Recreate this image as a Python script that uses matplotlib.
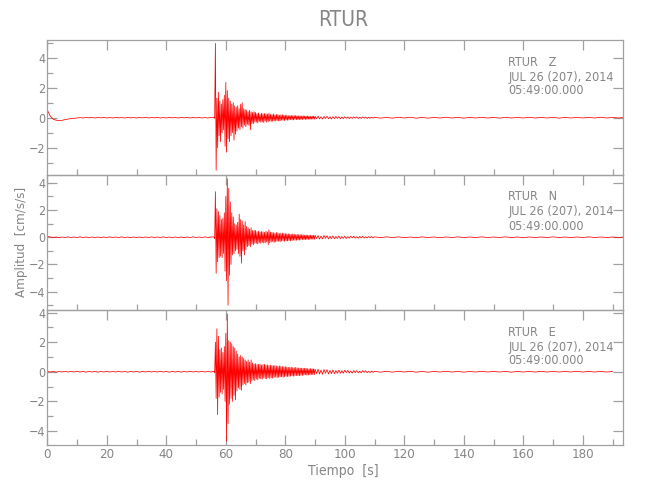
import numpy as np
import matplotlib
matplotlib.use("Agg")
import matplotlib.pyplot as plt
from matplotlib.ticker import MultipleLocator, FuncFormatter

plt.rcParams['font.family'] = ['DejaVu Sans']
plt.rcParams['font.stretch'] = 'condensed'

# ---------------- data (accelerations, cm/s/s) ----------------
station = "RTUR"
components = ["Z", "N", "E"]
date_line = "JUL 26 (207), 2014"
time_line = "05:49:00.000"

# segment start times [s] and sample spacing [s]
seg_starts = [0.0, 56.0, 70.0, 90.0, 110.0]
seg_dts = [1.0, 0.25, 0.25, 0.5, 2.0]

z_pre = [0.52, 0.10, -0.10, -0.17, -0.19, -0.17, -0.13, -0.09, -0.06, -0.04,
         -0.02, 0.01, -0.02, 0.02, -0.01, 0.02, -0.02, 0.01, -0.01, 0.02,
         -0.02, 0.01, -0.02, 0.02, -0.01, 0.01, -0.02, 0.02, -0.01, 0.01,
         -0.02, 0.02, -0.01, 0.02, -0.02, 0.01, -0.01, 0.02, -0.02, 0.01,
         -0.02, 0.02, -0.01, 0.01, -0.02, 0.02, -0.01, 0.02, -0.02, 0.01,
         -0.01, 0.02, -0.02, 0.01, -0.02, 0.02]
z_strong = [0.02, -0.05, 4.95, -3.50, 1.30, -2.00, 1.70, -1.20, 1.10, -1.60,
            0.90, -1.00, 1.20, -0.80, 1.50, -1.90, 2.35, -2.30, 1.80, -1.40,
            1.30, -1.60, 1.10, -1.20, 0.90, -1.00, 1.00, -1.50, 0.80, -1.10,
            0.70, -0.90, 0.80, -0.70, 0.60, -0.80, 0.90, -0.60, 1.00, -0.70,
            0.60, -0.50, 0.55, -0.60, 0.50, -0.45, 0.40, -0.50, 0.50, -0.80,
            0.40, -0.40, 0.35, -0.40, 0.40, -0.30]
z_coda = [0.35, -0.30, 0.28, -0.35, 0.32, -0.25, 0.22, -0.30, 0.30, -0.28,
          0.25, -0.32, 0.28, -0.22, 0.26, -0.30, 0.24, -0.26, 0.30, -0.22,
          0.22, -0.25, 0.20, -0.24, 0.25, -0.20, 0.18, -0.22, 0.22, -0.19,
          0.20, -0.22, 0.17, -0.20, 0.19, -0.17, 0.20, -0.18, 0.16, -0.19,
          0.17, -0.15, 0.16, -0.17, 0.14, -0.16, 0.15, -0.13, 0.16, -0.14,
          0.13, -0.15, 0.14, -0.12, 0.15, -0.13, 0.12, -0.14, 0.13, -0.12,
          0.12, -0.13, 0.11, -0.12, 0.13, -0.10, 0.11, -0.12, 0.10, -0.11,
          0.12, -0.10, 0.10, -0.11, 0.09, -0.10, 0.11, -0.09, 0.10, -0.10]
z_tail = [0.09, -0.07, 0.10, -0.08, 0.06, -0.09, 0.08, -0.05, 0.09, -0.07,
          0.05, -0.08, 0.07, -0.06, 0.08, -0.04, 0.06, -0.07, 0.05, -0.06,
          0.06, -0.04, 0.05, -0.06, 0.04, -0.05, 0.06, -0.03, 0.05, -0.05,
          0.03, -0.04, 0.05, -0.03, 0.04, -0.05, 0.03, -0.04, 0.04, -0.03]
z_post = [0.03, -0.03, 0.02, -0.03, 0.03, -0.02, 0.03, -0.03, 0.02, -0.03,
          0.02, -0.02, 0.03, -0.02, 0.02, -0.03, 0.02, -0.02, 0.03, -0.02,
          0.02, -0.03, 0.02, -0.02, 0.02, -0.02, 0.03, -0.02, 0.02, -0.02,
          0.02, -0.03, 0.02, -0.02, 0.02, -0.02, 0.02, -0.02, 0.03, -0.02,
          0.02, -0.02, 0.02]

n_pre = [0.06, 0.02, -0.02, 0.02, -0.03, 0.02, -0.02, 0.03, -0.02, 0.02,
         -0.02, 0.03, -0.02, 0.02, -0.03, 0.02, -0.02, 0.02, -0.03, 0.02,
         -0.02, 0.03, -0.02, 0.02, -0.02, 0.03, -0.02, 0.02, -0.03, 0.02,
         -0.02, 0.02, -0.03, 0.02, -0.02, 0.03, -0.02, 0.02, -0.02, 0.03,
         -0.02, 0.02, -0.03, 0.02, -0.02, 0.02, -0.03, 0.02, -0.02, 0.03,
         -0.02, 0.02, -0.02, 0.03, -0.02, 0.02]
n_strong = [0.03, -0.10, 3.35, -2.65, 2.10, -1.80, 1.90, -1.50, 1.60, -1.40,
            1.30, -1.50, 1.40, -1.20, 1.80, -2.50, 3.00, -3.20, 4.30, -5.00,
            3.60, -2.80, 2.60, -2.00, 1.80, -1.30, 1.50, -1.20, 1.00, -1.00,
            0.90, -0.90, 1.10, -1.20, 1.70, -1.40, 1.30, -1.90, 1.20, -1.00,
            0.90, -1.30, 1.15, -0.90, 0.80, -0.70, 0.70, -0.60, 0.60, -0.70,
            0.70, -0.50, 0.50, -0.55, 0.50, -0.45]
n_coda = [0.50, -0.45, 0.42, -0.50, 0.45, -0.40, 0.38, -0.45, 0.42, -0.38,
          0.40, -0.42, 0.36, -0.40, 0.45, -0.35, 0.38, -0.55, 0.55, -0.40,
          0.38, -0.35, 0.36, -0.32, 0.34, -0.38, 0.30, -0.34, 0.35, -0.30,
          0.32, -0.30, 0.28, -0.33, 0.30, -0.28, 0.31, -0.27, 0.28, -0.30,
          0.28, -0.26, 0.25, -0.28, 0.26, -0.24, 0.24, -0.26, 0.22, -0.25,
          0.24, -0.21, 0.22, -0.23, 0.20, -0.22, 0.21, -0.19, 0.20, -0.21,
          0.19, -0.18, 0.20, -0.17, 0.18, -0.19, 0.16, -0.18, 0.17, -0.16,
          0.16, -0.17, 0.15, -0.16, 0.16, -0.14, 0.15, -0.15, 0.14, -0.15]
n_tail = [0.14, -0.10, 0.13, -0.14, 0.09, -0.12, 0.13, -0.08, 0.11, -0.12,
          0.07, -0.10, 0.10, -0.11, 0.06, -0.09, 0.09, -0.10, 0.05, -0.08,
          0.08, -0.09, 0.05, -0.07, 0.08, -0.04, 0.07, -0.07, 0.04, -0.07,
          0.06, -0.04, 0.06, -0.05, 0.03, -0.05, 0.05, -0.03, 0.05, -0.04]
n_post = [0.03, -0.03, 0.03, -0.02, 0.03, -0.03, 0.02, -0.03, 0.03, -0.02,
          0.02, -0.03, 0.02, -0.02, 0.03, -0.02, 0.02, -0.02, 0.03, -0.02,
          0.02, -0.02, 0.03, -0.02, 0.02, -0.03, 0.02, -0.02, 0.02, -0.02,
          0.03, -0.02, 0.02, -0.02, 0.02, -0.02, 0.03, -0.02, 0.02, -0.02,
          0.02, -0.02, 0.02]

e_pre = [0.02, -0.02, 0.02, -0.03, 0.02, -0.02, 0.03, -0.02, 0.02, -0.02,
         0.03, -0.02, 0.02, -0.03, 0.02, -0.02, 0.02, -0.03, 0.02, -0.02,
         0.03, -0.02, 0.02, -0.02, 0.03, -0.02, 0.02, -0.03, 0.02, -0.02,
         0.02, -0.03, 0.02, -0.02, 0.03, -0.02, 0.02, -0.02, 0.03, -0.02,
         0.02, -0.03, 0.02, -0.02, 0.02, -0.03, 0.02, -0.02, 0.03, -0.02,
         0.02, -0.02, 0.03, -0.02, 0.02, -0.02]
e_strong = [0.03, -0.08, 2.00, -1.80, 2.90, -2.90, 2.40, -1.70, 1.50, -1.40,
            1.60, -1.50, 1.30, -1.20, 1.70, -2.00, 2.60, -4.70, 3.90, -3.50,
            2.10, -2.20, 2.00, -1.80, 1.90, -2.00, 1.70, -1.60, 1.60, -1.90,
            1.40, -1.30, 1.20, -1.10, 1.00, -1.20, 1.10, -1.25, 1.00, -0.90,
            0.90, -0.80, 0.80, -0.90, 0.70, -0.75, 0.80, -0.70, 0.65, -0.80,
            0.80, -0.60, 0.60, -0.55, 0.50, -0.60]
e_coda = [0.55, -0.50, 0.48, -0.55, 0.50, -0.45, 0.52, -0.48, 0.45, -0.50,
          0.48, -0.42, 0.50, -0.46, 0.44, -0.48, 0.46, -0.40, 0.42, -0.45,
          0.45, -0.40, 0.42, -0.44, 0.40, -0.38, 0.42, -0.36, 0.38, -0.40,
          0.36, -0.38, 0.40, -0.35, 0.36, -0.34, 0.35, -0.38, 0.33, -0.34,
          0.34, -0.30, 0.32, -0.33, 0.30, -0.32, 0.29, -0.30, 0.31, -0.28,
          0.28, -0.30, 0.27, -0.28, 0.29, -0.26, 0.26, -0.27, 0.25, -0.27,
          0.25, -0.24, 0.24, -0.25, 0.23, -0.22, 0.24, -0.21, 0.22, -0.23,
          0.21, -0.22, 0.20, -0.21, 0.21, -0.19, 0.20, -0.20, 0.19, -0.19]
e_tail = [0.18, -0.13, 0.17, -0.16, 0.11, -0.17, 0.15, -0.10, 0.14, -0.15,
          0.09, -0.13, 0.12, -0.13, 0.08, -0.11, 0.11, -0.11, 0.07, -0.10,
          0.10, -0.06, 0.09, -0.09, 0.05, -0.09, 0.08, -0.06, 0.08, -0.07,
          0.04, -0.07, 0.07, -0.04, 0.06, -0.06, 0.03, -0.06, 0.05, -0.04]
e_post = [0.03, -0.03, 0.03, -0.03, 0.03, -0.02, 0.03, -0.03, 0.02, -0.03,
          0.02, -0.02, 0.03, -0.02, 0.02, -0.03, 0.02, -0.02, 0.03, -0.02,
          0.02, -0.02, 0.02, -0.03, 0.02, -0.02, 0.02, -0.02, 0.03, -0.02,
          0.02, -0.02, 0.02, -0.02, 0.03, -0.02, 0.02, -0.02, 0.02, -0.02,
          0.02]

traces = {"Z": (z_pre, z_strong, z_coda, z_tail, z_post),
          "N": (n_pre, n_strong, n_coda, n_tail, n_post),
          "E": (e_pre, e_strong, e_coda, e_tail, e_post)}

y_limits = {"Z": (-3.82, 5.18), "N": (-5.35, 4.58), "E": (-4.95, 4.17)}
x_limit = (0, 193.6)

# ---------------- drawing ----------------
GRAY_TXT = "#858585"
GRAY_AX = "#a0a0a0"

fig = plt.figure(figsize=(6.5, 5), dpi=100)
left, width, height = 47.3 / 650, 576 / 650, 135 / 500
tops_px = [40, 175, 310]


def fmt(val, pos):
    if abs(val) < 1e-9:
        return "0"
    return f"{val:.0f}".replace("-", "\u2212")


for i, comp in enumerate(components):
    bottom = 1 - (tops_px[i] + 135) / 500
    ax = fig.add_axes([left, bottom, width, height])
    segs = traces[comp]
    t = np.concatenate([s + d * np.arange(len(v)) for s, d, v in zip(seg_starts, seg_dts, segs)])
    v = np.concatenate([np.asarray(v, float) for v in segs])
    ax.plot(t, v, color="#ff0000", lw=0.55)
    ax.set_xlim(*x_limit)
    ax.set_ylim(*y_limits[comp])
    ax.xaxis.set_major_locator(MultipleLocator(20))
    ax.xaxis.set_minor_locator(MultipleLocator(10))
    ax.yaxis.set_major_locator(MultipleLocator(2))
    ax.yaxis.set_minor_locator(MultipleLocator(1))
    ax.yaxis.set_major_formatter(FuncFormatter(fmt))
    last = (i == len(components) - 1)
    ax.tick_params(axis="both", which="both", direction="in", colors=GRAY_AX,
                   labelcolor=GRAY_TXT, width=0.9)
    ax.tick_params(axis="both", which="major", length=7.2)
    ax.tick_params(axis="both", which="minor", length=4.0)
    ax.tick_params(axis="x", top=True, bottom=last, labelbottom=last,
                   labelsize=9.5, pad=2.5)
    ax.tick_params(axis="y", left=True, right=True, labelsize=9, pad=1.5)
    for sp in ax.spines.values():
        sp.set_color(GRAY_AX)
        sp.set_linewidth(0.9)
    ax.patch.set_alpha(0)
    ax.text(0.80, 1 - 22 / 135, f"{station}   {comp}", transform=ax.transAxes,
            ha="left", va="center", fontsize=9, color=GRAY_TXT)
    ax.text(0.80, 1 - 37 / 135, date_line, transform=ax.transAxes,
            ha="left", va="center", fontsize=9, color=GRAY_TXT)
    ax.text(0.80, 1 - 51 / 135, time_line, transform=ax.transAxes,
            ha="left", va="center", fontsize=9, color=GRAY_TXT)

fig.text(343 / 650, 1 - 20 / 500, station, ha="center", va="center",
         fontsize=15, color=GRAY_TXT)
fig.text(343 / 650, 1 - 471 / 500, "Tiempo  [s]", ha="center", va="center",
         fontsize=10, color=GRAY_TXT)
fig.text(22 / 650, 1 - 242 / 500, "Amplitud  [cm/s/s]", ha="center", va="center",
         rotation=90, fontsize=9.5, color=GRAY_TXT)

fig.savefig("out.png", dpi=100)
